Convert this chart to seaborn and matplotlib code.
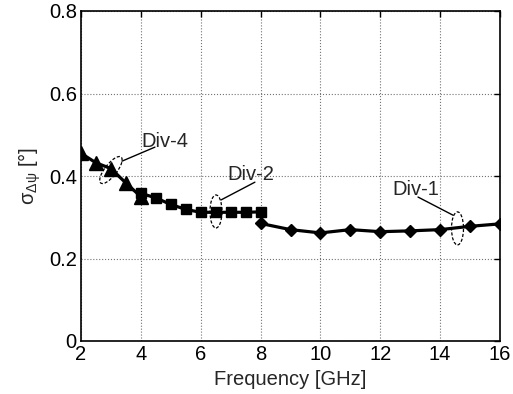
import matplotlib
matplotlib.use("Agg")
import matplotlib.pyplot as plt
import matplotlib.transforms as mtransforms
from matplotlib.patches import Ellipse
import pandas as pd
import seaborn as sns

# Standard deviation of the phase difference per divider setting
freq_div4 = [2.0, 2.5, 3.0, 3.5, 4.0]
sigma_div4 = [0.455, 0.432, 0.418, 0.383, 0.350]

freq_div2 = [4.0, 4.5, 5.0, 5.5, 6.0, 6.5, 7.0, 7.5, 8.0]
sigma_div2 = [0.358, 0.347, 0.331, 0.319, 0.312, 0.312, 0.312, 0.312, 0.313]

freq_div1 = [8, 9, 10, 11, 12, 13, 14, 15, 16]
sigma_div1 = [0.285, 0.270, 0.262, 0.270, 0.265, 0.267, 0.270, 0.278, 0.284]

x_ticks = [2, 4, 6, 8, 10, 12, 14, 16]
y_ticks = [0, 0.2, 0.4, 0.6, 0.8]
y_tick_labels = ["0", "0.2", "0.4", "0.6", "0.8"]

sns.set_style("white")
plt.rcParams["font.family"] = ["Liberation Sans", "DejaVu Sans"]
plt.rcParams["mathtext.fontset"] = "custom"
plt.rcParams["mathtext.rm"] = "Liberation Sans"
plt.rcParams["mathtext.it"] = "Liberation Sans:italic"
plt.rcParams["mathtext.bf"] = "Liberation Sans:bold"

FS = 14.5

fig = plt.figure(figsize=(5.13, 3.94), dpi=100)
ax = fig.add_axes([81 / 513, 1 - 341 / 394, 419 / 513, 330 / 394])

series = [
    (freq_div4, sigma_div4, "^", 9.5),
    (freq_div2, sigma_div2, "s", 7.0),
    (freq_div1, sigma_div1, "D", 6.5),
]
for fx, fy, mk, ms in series:
    df = pd.DataFrame({"f": fx, "s": fy})
    sns.lineplot(data=df, x="f", y="s", ax=ax, color="k", lw=2.3,
                 marker=mk, markersize=ms, markeredgecolor="k",
                 markerfacecolor="k", markeredgewidth=1.0, zorder=3)

ax.set_xlim(2, 16)
ax.set_ylim(0, 0.8)
ax.set_xticks(x_ticks)
ax.set_xticklabels([str(t) for t in x_ticks])
ax.set_yticks(y_ticks)
ax.set_yticklabels(y_tick_labels)
ax.grid(True, linestyle=":", color="0.45", lw=0.8)
for sp in ax.spines.values():
    sp.set_visible(True)
    sp.set_color("k")
    sp.set_linewidth(1.2)
ax.tick_params(direction="in", length=4, width=1.0, top=True, right=True,
               labelsize=FS, pad=3, colors="k")

ax.set_xlabel("Frequency [GHz]", fontsize=FS, labelpad=4)
ax.set_ylabel(r"$\mathregular{\sigma_{\Delta\psi}}$ [°]", fontsize=FS, labelpad=4)


def ring(x, y, w_px, h_px, angle=0):
    trans = fig.dpi_scale_trans + mtransforms.ScaledTranslation(x, y, ax.transData)
    e = Ellipse((0, 0), w_px / fig.dpi, h_px / fig.dpi, angle=angle,
                transform=trans, fill=False, edgecolor="k", lw=0.9,
                linestyle=(0, (2.5, 1.5)), zorder=4)
    ax.add_patch(e)


# Divider annotations: dashed ring, leader line, label
ring(3.0, 0.4145, 33, 12, angle=52)
ax.plot([3.37, 4.47], [0.436, 0.470], color="k", lw=1.0, zorder=4)
ax.text(4.03, 0.470, "Div-4", fontsize=FS, ha="left", va="baseline")

ring(6.51, 0.314, 12, 33)
ax.plot([6.68, 7.81], [0.342, 0.385], color="k", lw=1.0, zorder=4)
ax.text(6.88, 0.390, "Div-2", fontsize=FS, ha="left", va="baseline")

ring(14.58, 0.273, 12, 33)
ax.plot([13.26, 14.43], [0.349, 0.305], color="k", lw=1.0, zorder=4)
ax.text(12.40, 0.354, "Div-1", fontsize=FS, ha="left", va="baseline")

fig.savefig("out.png", dpi=100)
